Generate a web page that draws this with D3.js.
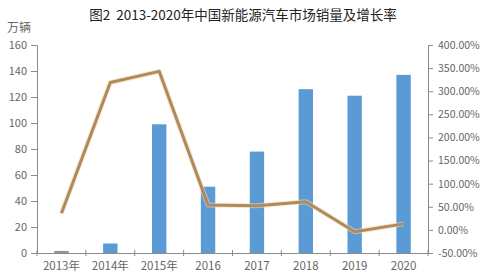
<!DOCTYPE html>
<html><head><meta charset="utf-8">
<script src="https://cdn.jsdelivr.net/npm/d3@7"></script>
<style>body{margin:0;background:#fff}svg{display:block}text{font-family:"Noto Sans CJK SC","DejaVu Sans",sans-serif}</style>
</head><body><svg id="c" width="485" height="278"></svg>
<script>
const categories = ["2013年","2014年","2015年","2016","2017","2018","2019","2020"];
const sales = [1.6, 7.3, 99, 51, 78, 126, 121, 137];
const growth = [36, 319, 343, 54, 52, 61, -4, 13];
const leftTicks = [0,20,40,60,80,100,120,140,160];
const rightTicks = [-50,0,50,100,150,200,250,300,350,400];

const svg = d3.select("#c");
const L = 37, R = 428, T = 45, B = 253;
const x = d3.scaleBand().domain(categories).range([L, R]);
const y = d3.scaleLinear().domain([0,160]).range([B, T]);
const y2 = d3.scaleLinear().domain([-50,400]).range([B, T]);
const axisColor = "#8c8c8c", textColor = "#666";

svg.append("text").attr("x", 243).attr("y", 20).attr("text-anchor","middle")
  .style("white-space","pre")
  .attr("font-size", 13.5).attr("fill","#222").text("图2  2013-2020年中国新能源汽车市场销量及增长率");
svg.append("text").attr("x", 7).attr("y", 32).attr("font-size", 12).attr("fill", textColor).text("万辆");

// bars
svg.selectAll("rect.bar").data(sales).join("rect").attr("class","bar")
  .attr("x", (d,i)=> x(categories[i]) + x.bandwidth()/2 - 7.2)
  .attr("width", 14.4)
  .attr("y", d=> y(d)).attr("height", d=> B - y(d))
  .attr("fill", (d,i)=> i===0 ? "#8a96a6" : "#5b9bd5");

// line
const line = d3.line().x((d,i)=> x(categories[i]) + x.bandwidth()/2).y(d=> y2(d));
svg.append("path").datum(growth).attr("d", line).attr("fill","none")
  .attr("stroke","#f7d9a8").attr("stroke-width",5).attr("stroke-opacity",0.6).attr("stroke-linejoin","round");
svg.append("path").datum(growth).attr("d", line).attr("fill","none")
  .attr("stroke","#ad8a60").attr("stroke-width",3).attr("stroke-linejoin","round");

// left axis
const ga = svg.append("g").attr("transform",`translate(${L},0)`)
  .call(d3.axisLeft(y).tickValues(leftTicks).tickSize(6).tickPadding(4));
// right axis
const gb = svg.append("g").attr("transform",`translate(${R},0)`)
  .call(d3.axisRight(y2).tickValues(rightTicks).tickSize(5).tickPadding(5).tickFormat(d=> d.toFixed(2)+"%"));
// bottom axis
const gx = svg.append("g").attr("transform",`translate(0,${B})`)
  .call(d3.axisBottom(x).tickSize(0).tickPadding(9));
gx.selectAll(".tickmarks").data(d3.range(categories.length+1)).join("line")
  .attr("x1", i=> L + i*x.step()).attr("x2", i=> L + i*x.step())
  .attr("y1", -3).attr("y2", 3).attr("stroke", axisColor);

[ga,gb,gx].forEach(g=>{
  g.select(".domain").attr("stroke", axisColor);
  g.selectAll(".tick line").attr("stroke", axisColor);
  g.selectAll("text").attr("fill", textColor).attr("font-size", 11).attr("font-family","'DejaVu Sans','Noto Sans CJK SC',sans-serif");
});
gx.selectAll("text").attr("font-family","'Noto Sans CJK SC',sans-serif").attr("font-size",11.5);
gb.selectAll("text").attr("font-size",10.5);
</script></body></html>
